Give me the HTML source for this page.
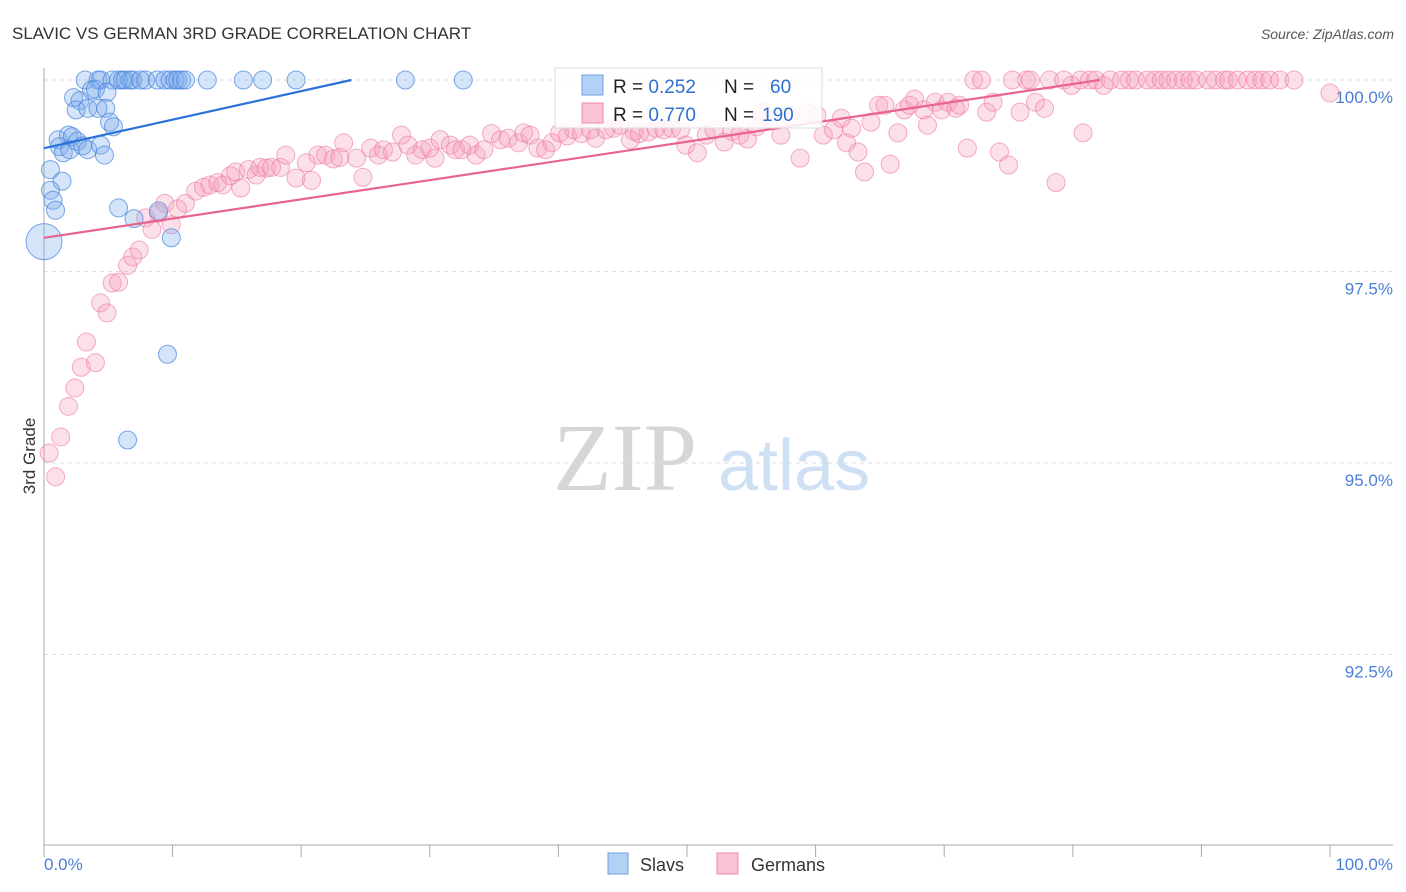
<!DOCTYPE html>
<html><head><meta charset="utf-8"><style>
body{margin:0;background:#fff;font-family:"Liberation Sans",sans-serif}
</style></head><body>
<svg id="chart" width="1406" height="892" xmlns="http://www.w3.org/2000/svg" style="display:block">
<text x="12" y="39" font-size="17" fill="#333">SLAVIC VS GERMAN 3RD GRADE CORRELATION CHART</text>
<text x="1394" y="39" font-size="14" fill="#555" font-style="italic" text-anchor="end">Source: ZipAtlas.com</text>
<g>
<text x="553" y="490" font-family="Liberation Serif,serif" font-size="96" fill="#d6d6d6">ZIP</text>
<text x="718" y="490" font-size="72" fill="#cfe0f4">atlas</text>
</g>
<g id="grid"></g>
<g id="axes"></g>
<g id="pinkpts"></g>
<g id="bluepts"></g>
<g id="lines"></g>
<text x="35" y="456" font-size="17" fill="#333" text-anchor="middle" transform="rotate(-90 35 456)">3rd Grade</text>
<g>
<rect x="555" y="68" width="267" height="60" fill="#fff" fill-opacity="0.85" stroke="#ddd"/>
<rect x="582" y="75" width="21" height="20" fill="#b3d0f5" stroke="#6fa0e0"/>
<rect x="582" y="103" width="21" height="20" fill="#f9c3d3" stroke="#ee8aab"/>
<text x="613" y="93" font-size="19" fill="#222">R = <tspan fill="#2f6fd0">0.252</tspan><tspan x="724">N = </tspan><tspan x="770" fill="#2f6fd0">60</tspan></text>
<text x="613" y="121" font-size="19" fill="#222">R = <tspan fill="#2f6fd0">0.770</tspan><tspan x="724">N = </tspan><tspan x="762" fill="#2f6fd0">190</tspan></text>
</g>
<g>
<rect x="608" y="853" width="20" height="21" fill="#b3d0f5" stroke="#6fa0e0"/>
<text x="640" y="871" font-size="18" fill="#333">Slavs</text>
<rect x="717" y="853" width="21" height="21" fill="#f9c3d3" stroke="#ee8aab"/>
<text x="751" y="871" font-size="18" fill="#333">Germans</text>
</g>
</svg>
<script>
const yTicks=[100,97.5,95,92.5];
const yTickLabels=["100.0%","97.5%","95.0%","92.5%"];
const xTickVals=[0,10,20,30,40,50,60,70,80,90,100];
const slavX=[3.2,4.2,4.4,5.3,5.8,6.1,6.3,6.7,6.9,7.5,7.9,8.8,9.4,9.8,10.2,10.4,10.7,11.0,12.7,15.5,17.0,19.6,28.1,32.6,
2.3,2.8,3.7,4.0,4.9,2.5,3.4,4.2,4.8,5.1,5.4,1.1,1.9,2.2,1.2,1.5,2.0,2.6,3.0,3.4,4.4,4.7,0.5,1.4,0.5,0.7,0.9,5.8,7.0,8.9,9.9,9.6,6.5,0];
const slavY=[100,100,100,100,100,100,100,100,100,100,100,100,100,100,100,100,100,100,100,100,100,100,100,100,
99.77,99.73,99.87,99.88,99.84,99.61,99.63,99.63,99.63,99.45,99.39,99.22,99.28,99.26,99.13,99.05,99.09,99.20,99.14,99.09,99.15,99.02,98.83,98.68,98.56,98.43,98.30,98.33,98.19,98.29,97.94,96.42,95.30,97.89];
const slavBigIndex=57;
const gerX=[0.4,0.9,1.3,1.9,2.4,2.9,4.0,3.3,4.4,4.9,5.3,5.8,6.5,6.9,7.4,7.9,8.4,8.9,9.4,9.9,10.4,11.0,11.8,12.4,12.9,13.5,13.9,14.5,14.9,15.3,15.9,16.5,16.8,17.3,17.7,18.4,18.8,19.6,20.4,20.8,21.3,21.9,22.5,23.0,23.3,24.3,24.8,25.4,26.0,26.4,27.1,27.8,28.3,28.9,29.4,30.0,30.8,30.4,31.6,32.0,32.5,33.1,33.6,34.2,34.8,35.5,36.1,36.9,37.3,37.8,38.4,39.0,39.5,40.1,40.7,41.2,41.8,42.5,42.9,43.7,44.3,44.8,45.6,45.9,46.3,47.0,47.6,48.2,48.8,49.5,49.9,50.8,51.5,52.1,52.9,53.5,54.1,54.7,55.4,55.8,56.5,57.3,58.0,58.8,59.4,60.1,60.6,61.4,62.0,62.4,62.8,63.3,63.8,64.3,64.9,65.4,65.8,66.4,66.9,67.3,67.7,68.4,68.7,69.3,69.8,70.3,70.9,71.2,71.8,72.3,72.9,73.3,73.8,74.3,75.0,75.3,75.9,76.4,76.7,77.1,77.8,78.2,78.7,79.3,79.9,80.6,80.8,81.3,81.8,82.4,82.9,83.8,84.4,84.9,85.8,86.4,86.9,87.4,88.0,88.6,89.1,89.6,90.5,91.1,91.8,92.1,92.8,93.6,94.2,94.7,95.3,96.1,97.2,100];
const gerY=[95.13,94.82,95.34,95.74,95.98,96.25,96.31,96.58,97.09,96.96,97.35,97.36,97.58,97.69,97.78,98.20,98.05,98.26,98.39,98.11,98.32,98.39,98.55,98.60,98.63,98.66,98.63,98.75,98.80,98.59,98.83,98.76,98.86,98.85,98.86,98.86,99.02,98.72,98.92,98.69,99.02,99.02,98.97,98.99,99.18,98.98,98.73,99.11,99.02,99.09,99.06,99.28,99.15,99.02,99.09,99.11,99.22,98.98,99.15,99.09,99.09,99.15,99.02,99.09,99.30,99.22,99.24,99.18,99.31,99.28,99.11,99.09,99.18,99.31,99.27,99.35,99.30,99.35,99.24,99.35,99.37,99.41,99.22,99.33,99.30,99.32,99.37,99.35,99.37,99.35,99.15,99.05,99.28,99.35,99.19,99.33,99.28,99.23,99.39,99.58,99.48,99.28,99.52,98.98,99.58,99.54,99.28,99.35,99.50,99.18,99.37,99.06,98.80,99.45,99.67,99.67,98.90,99.31,99.61,99.67,99.75,99.61,99.41,99.71,99.61,99.71,99.63,99.67,99.11,100,100,99.58,99.71,99.06,98.89,100,99.58,100,100,99.71,99.63,100,98.66,100,99.93,100,99.31,100,100,99.93,100,100,100,100,100,100,100,100,100,100,100,100,100,100,100,100,100,100,100,100,100,100,100,99.83];
const slavTrend=[0,99.11,23.9,100];
const gerTrend=[0,97.94,82.1,100];
const X0=44,X1=1330,Y100=80,Y90=846;
const sx=v=>X0+(X1-X0)*v/100;
const sy=v=>Y100+(100-v)*(Y90-Y100)/10;
const NS="http://www.w3.org/2000/svg";
function mk(tag,attrs,parent){const e=document.createElementNS(NS,tag);for(const k in attrs)e.setAttribute(k,attrs[k]);parent.appendChild(e);return e;}
const grid=document.getElementById('grid'),axes=document.getElementById('axes');
yTicks.forEach((t,i)=>{
  const l=mk('line',{x1:X0,x2:1393,y1:sy(t),y2:sy(t),stroke:'#ddd','stroke-dasharray':'4 4'},grid);
  
  
  const tx=mk('text',{x:1393,y:sy(t)+23,'font-size':17,fill:'#4a7fd8','text-anchor':'end'},axes);
  tx.textContent=yTickLabels[i];
  
  
});
const la=mk('line',{x1:X0,x2:X0,y1:68,y2:Y90,stroke:'#aaa'},axes);


const ba=mk('line',{x1:X0,x2:1393,y1:Y90-1,y2:Y90-1,stroke:'#aaa'},axes);


xTickVals.forEach(v=>{
  const t=mk('line',{x1:sx(v),x2:sx(v),y1:Y90-1,y2:Y90+11,stroke:'#aaa'},axes);
  
  
});
const xl0=mk('text',{x:X0,y:870,'font-size':17,fill:'#4a7fd8'},axes);xl0.textContent='0.0%';


const xl1=mk('text',{x:1393,y:870,'font-size':17,fill:'#4a7fd8','text-anchor':'end'},axes);xl1.textContent='100.0%';


const pg=document.getElementById('pinkpts');
gerX.forEach((x,i)=>{
  const c=mk('circle',{cx:sx(x),cy:sy(gerY[i]),r:9,fill:'rgba(246,160,188,0.32)',stroke:'rgba(236,120,160,0.6)','stroke-width':1},pg);
  
  
});
const bg=document.getElementById('bluepts');
slavX.forEach((x,i)=>{
  const c=mk('circle',{cx:sx(x),cy:sy(slavY[i]),r:i===slavBigIndex?18:9,fill:'rgba(120,170,235,0.32)',stroke:'rgba(70,130,220,0.7)','stroke-width':1},bg);
  
  
});
const lg=document.getElementById('lines');
const l1=mk('line',{x1:sx(slavTrend[0]),y1:sy(slavTrend[1]),x2:sx(slavTrend[2]),y2:sy(slavTrend[3]),stroke:'#2a72d8','stroke-width':2.2},lg);


const l2=mk('line',{x1:sx(gerTrend[0]),y1:sy(gerTrend[1]),x2:sx(gerTrend[2]),y2:sy(gerTrend[3]),stroke:'#e8648f','stroke-width':2.2},lg);


</script>
</body></html>
